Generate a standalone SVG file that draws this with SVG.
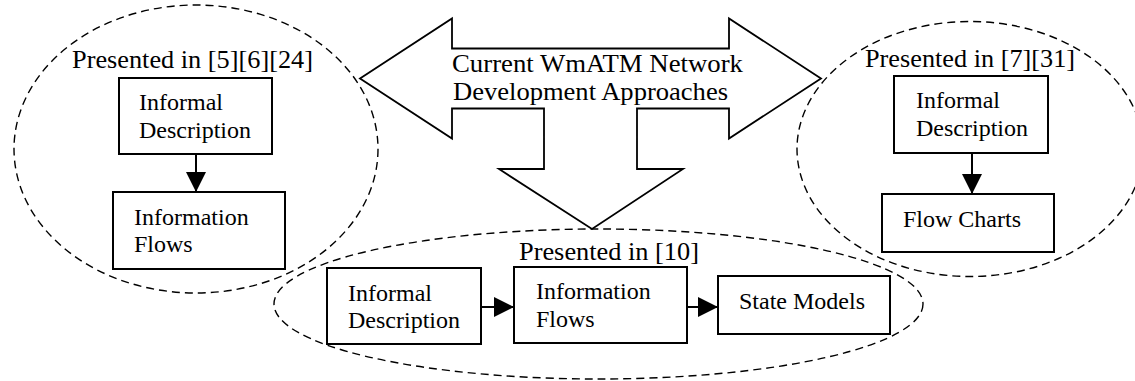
<svg xmlns="http://www.w3.org/2000/svg" width="1135" height="381" viewBox="0 0 1135 381">
  <style>
    .grp { fill: none; stroke: #000; stroke-width: 1.4; stroke-dasharray: 8 5; }
    .box { fill: #fff; stroke: #000; stroke-width: 2; }
    .big { fill: none; stroke: #000; stroke-width: 1.8; stroke-linejoin: miter; }
    .t { font-family: "Liberation Serif", "Times New Roman", serif; font-size: 24px; fill: #000; }
    .h { font-family: "Liberation Serif", "Times New Roman", serif; font-size: 26px; fill: #000; }
    .edge { stroke: #000; stroke-width: 2; fill: none; marker-end: url(#ah); }
  </style>
  <defs>
    <marker id="ah" markerUnits="userSpaceOnUse" markerWidth="20" markerHeight="20" refX="20" refY="10" orient="auto">
      <path d="M0,0 L20,10 L0,20 Z" fill="#000"/>
    </marker>
  </defs>
  <rect width="1135" height="381" fill="#fff"/>

  <g id="group-left">
    <ellipse class="grp" cx="196" cy="149" rx="182" ry="144"/>
    <text class="h" x="72" y="68" textLength="241" lengthAdjust="spacingAndGlyphs">Presented in [5][6][24]</text>
  </g>
  <g id="group-right">
    <ellipse class="grp" cx="970" cy="149" rx="173" ry="127.5"/>
    <text class="h" x="865" y="67" textLength="210" lengthAdjust="spacingAndGlyphs">Presented in [7][31]</text>
  </g>
  <g id="group-bottom">
    <ellipse class="grp" cx="598.5" cy="304" rx="324.5" ry="75"/>
    <text class="h" x="519" y="260" textLength="180" lengthAdjust="spacingAndGlyphs">Presented in [10]</text>
  </g>

  <g id="approaches">
    <polygon class="big" points="360,78.5 452,18.5 452,48.5 729,48.5 729,18.5 821,78.5 729,138.5 729,108.5 637,108.5 637,169 683,169 592,229 499,169 544,169 544,108.5 452,108.5 452,138.5"/>
    <text class="h" x="452" y="72" textLength="291" lengthAdjust="spacingAndGlyphs">Current WmATM Network</text>
    <text class="h" x="453" y="100" textLength="275" lengthAdjust="spacingAndGlyphs">Development Approaches</text>
  </g>

  <g id="left-informal">
    <rect class="box" x="119" y="78" width="153" height="76"/>
    <text class="t" x="139" y="110">Informal</text>
    <text class="t" x="139" y="138">Description</text>
  </g>
  <g id="left-flows">
    <rect class="box" x="113" y="192" width="172" height="77"/>
    <text class="t" x="134" y="225">Information</text>
    <text class="t" x="134" y="252">Flows</text>
  </g>

  <g id="right-informal">
    <rect class="box" x="894" y="76" width="154" height="77"/>
    <text class="t" x="916" y="108">Informal</text>
    <text class="t" x="916" y="136">Description</text>
  </g>
  <g id="right-flowcharts">
    <rect class="box" x="882" y="194" width="172" height="58"/>
    <text class="t" x="903" y="227">Flow Charts</text>
  </g>

  <g id="bottom-informal">
    <rect class="box" x="327" y="268" width="154" height="76"/>
    <text class="t" x="348" y="301">Informal</text>
    <text class="t" x="348" y="328">Description</text>
  </g>
  <g id="bottom-flows">
    <rect class="box" x="514" y="267" width="173" height="76"/>
    <text class="t" x="536" y="299">Information</text>
    <text class="t" x="536" y="327">Flows</text>
  </g>
  <g id="bottom-state">
    <rect class="box" x="718" y="276" width="172" height="58"/>
    <text class="t" x="739" y="309">State Models</text>
  </g>

  <g id="connectors">
    <line class="edge" x1="196" y1="154" x2="196" y2="192"/>
    <line class="edge" x1="972" y1="153" x2="972" y2="194"/>
    <line class="edge" x1="481" y1="307" x2="514" y2="307"/>
    <line class="edge" x1="687" y1="307" x2="718" y2="307"/>
  </g>
</svg>
